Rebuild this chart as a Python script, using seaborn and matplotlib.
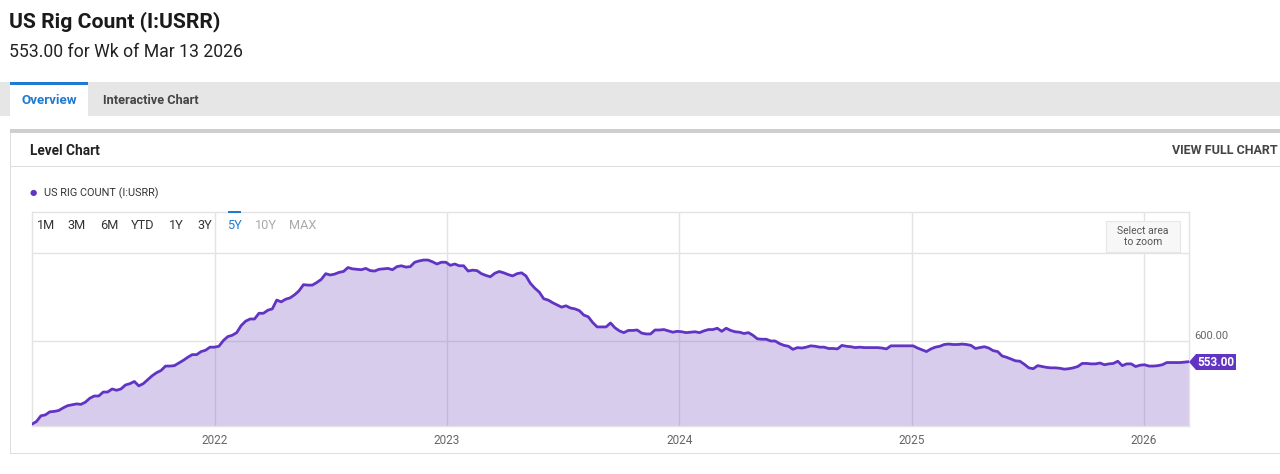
"""US Rig Count (I:USRR) - 5Y level chart, YCharts style."""

import matplotlib

matplotlib.use("Agg")
import matplotlib.dates as mdates
import matplotlib.pyplot as plt
import pandas as pd
import seaborn as sns
from matplotlib.patches import Polygon, Rectangle

W, H = 1280, 474

# weekly rig counts, Mar 19 2021 .. Mar 13 2026
rig_2021 = [
    411, 417, 430, 432, 439, 440, 442, 448, 453, 455, 457, 456, 461, 470,
    475, 475, 484, 484, 491, 488, 491, 500, 503, 508, 498, 503, 512, 521,
    528, 533, 543, 543, 544, 550, 556, 563, 569, 569, 576, 579, 586, 586,
]
rig_2022 = [
    588, 601, 610, 613, 619, 635, 645, 650, 650, 663, 663, 670, 673, 693,
    689, 695, 698, 705, 714, 728, 727, 727, 733, 740, 753, 750, 752, 756,
    758, 767, 764, 763, 762, 765, 760, 759, 763, 764, 765, 762, 769, 771,
    768, 769, 779, 782, 784, 784, 780, 775, 779, 779,
]
rig_2023 = [
    772, 775, 771, 771, 759, 761, 760, 753, 749, 746, 754, 758, 755, 751,
    748, 753, 755, 748, 731, 720, 711, 696, 693, 687, 682, 677, 680, 675,
    673, 669, 659, 655, 642, 632, 632, 632, 641, 630, 623, 619, 624, 624,
    625, 618, 616, 616, 625, 625, 626, 623, 620, 622,
]
rig_2024 = [
    621, 619, 620, 621, 619, 623, 626, 626, 629, 622, 629, 624, 621, 620,
    617, 619, 613, 605, 604, 604, 600, 600, 594, 590, 588, 581, 585, 584,
    586, 589, 588, 586, 586, 583, 583, 582, 590, 588, 587, 585, 586, 585,
    585, 585, 585, 584, 582, 589, 589, 589, 589, 589,
]
rig_2025 = [
    589, 584, 580, 576, 582, 586, 588, 592, 593, 592, 592, 593, 592, 590,
    583, 585, 587, 584, 578, 576, 566, 563, 559, 555, 554, 547, 539, 537,
    544, 542, 540, 539, 539, 538, 536, 537, 539, 542, 549, 549, 548, 548,
    550, 546, 548, 549, 554, 544, 548, 548, 542, 545,
]
rig_2026 = [546, 543, 543, 544, 546, 551, 551, 551, 551, 552, 553]

rig_count = rig_2021 + rig_2022 + rig_2023 + rig_2024 + rig_2025 + rig_2026
last_week = "2026-03-13"
year_labels = ["2022", "2023", "2024", "2025", "2026"]
grid_levels = [600, 800]
range_buttons = ["1M", "3M", "6M", "YTD", "1Y", "3Y", "5Y", "10Y", "MAX"]

df = pd.DataFrame({
    "week": pd.date_range(end=last_week, periods=len(rig_count), freq="7D"),
    "rigs": rig_count,
})

LINE = "#6134c4"
FILL = "#7e57c2"
GRID = "#e3e3e3"
BLUE = "#1f7bd1"

sns.set_style("white")
plt.rcParams["font.family"] = ["Roboto", "DejaVu Sans"]


def fx(x):
    return x / W


def fy(y):
    return 1 - y / H


def box(fig, x0, y0, x1, y1, **kw):
    fig.add_artist(Rectangle((fx(x0), fy(y1)), (x1 - x0) / W, (y1 - y0) / H,
                             transform=fig.transFigure, **kw))


fig = plt.figure(figsize=(W / 100, H / 100), dpi=100)

# page header
fig.text(fx(9), fy(22), "US Rig Count (I:USRR)", fontsize=15.2, weight="bold",
         color="#1a1a1a", va="center")
fig.text(fx(9), fy(52), "553.00 for Wk of Mar 13 2026", fontsize=12.7,
         color="#222222", va="center")

# tabs
box(fig, 0, 82, W, 116, color="#e6e6e6", lw=0)
box(fig, 10, 82, 88, 117, color="white", lw=0)
box(fig, 10, 82, 88, 85, color=BLUE, lw=0)
fig.text(fx(49), fy(100), "Overview", fontsize=9.6, weight="bold", color=BLUE,
         ha="center", va="center")
fig.text(fx(103), fy(100), "Interactive Chart", fontsize=9.2, weight="bold",
         color="#444444", va="center")

# panel frame
box(fig, 10, 129, W, 133, color="#cfcfcf", lw=0)
box(fig, 10, 133, 11, 454, color="#dddddd", lw=0)
box(fig, 10, 453, W, 454, color="#dddddd", lw=0)
box(fig, 10, 166, W, 167, color="#dddddd", lw=0)
fig.text(fx(30), fy(151), "Level Chart", fontsize=9.8, weight="bold",
         color="#222222", va="center")
fig.text(fx(1278), fy(151), "VIEW FULL CHART", fontsize=9, weight="bold",
         color="#444444", va="center", ha="right")

# legend
fig.text(fx(33), fy(193), "\u25cf", fontsize=6, color=LINE, ha="center",
         va="center", family="DejaVu Sans")
fig.text(fx(44), fy(193), "US RIG COUNT (I:USRR)", fontsize=7.8,
         color="#333333", va="center")

# chart
ax = fig.add_axes([fx(32), fy(426), (1189 - 32) / W, (426 - 212) / H])
ax.fill_between(df["week"], df["rigs"], 0, color=FILL, alpha=0.3, lw=0,
                zorder=2)
sns.lineplot(data=df, x="week", y="rigs", ax=ax, color=LINE, lw=2,
             zorder=3)

ax.set_xlim(df["week"].iloc[0], df["week"].iloc[-1])
ax.set_ylim(406.8, 893.2)
ax.set_xticks(pd.to_datetime([f"{y}-01-01" for y in year_labels]))
ax.xaxis.set_major_formatter(mdates.DateFormatter("%Y"))
ax.set_yticks(grid_levels)
ax.set_yticklabels([])
ax.grid(True, color=GRID, lw=1, zorder=0)
ax.set_axisbelow(True)
ax.tick_params(axis="x", length=0, pad=6, labelsize=8.5, labelcolor="#666666")
ax.tick_params(axis="y", length=0)
ax.set_xlabel("")
ax.set_ylabel("")
for side in ax.spines.values():
    side.set_color(GRID)
    side.set_linewidth(1)

ax.text(1.0045, 600, "600.00", transform=ax.get_yaxis_transform(),
        fontsize=8, color="#666666", va="bottom")

# last value flag
fig.add_artist(Polygon(
    [(fx(1189), fy(362)), (fx(1196), fy(354)), (fx(1236), fy(354)),
     (fx(1236), fy(370)), (fx(1196), fy(370))],
    closed=True, transform=fig.transFigure, color=LINE, lw=0))
fig.text(fx(1216), fy(362), f"{rig_count[-1]:.2f}", fontsize=8.5,
         weight="bold", color="white", ha="center", va="center")

# range selector
button_x = [46, 77, 109, 143, 176, 205, 234, 266, 303]
for label, bx in zip(range_buttons, button_x):
    if label == "5Y":
        col = BLUE
    elif label in ("10Y", "MAX"):
        col = "#aaaaaa"
    else:
        col = "#333333"
    fig.text(fx(bx), fy(226), label, fontsize=9.2, color=col, ha="center",
             va="center")
box(fig, 228, 211, 241, 213, color=BLUE, lw=0)

# zoom hint
box(fig, 1106, 221, 1180, 252, facecolor="#f7f7f7", edgecolor="#e6e6e6",
    lw=0.8)
fig.text(fx(1143), fy(236.5), "Select area\nto zoom", fontsize=7.5,
         color="#555555", ha="center", va="center", linespacing=1.1)

fig.savefig("out.png", dpi=100)
